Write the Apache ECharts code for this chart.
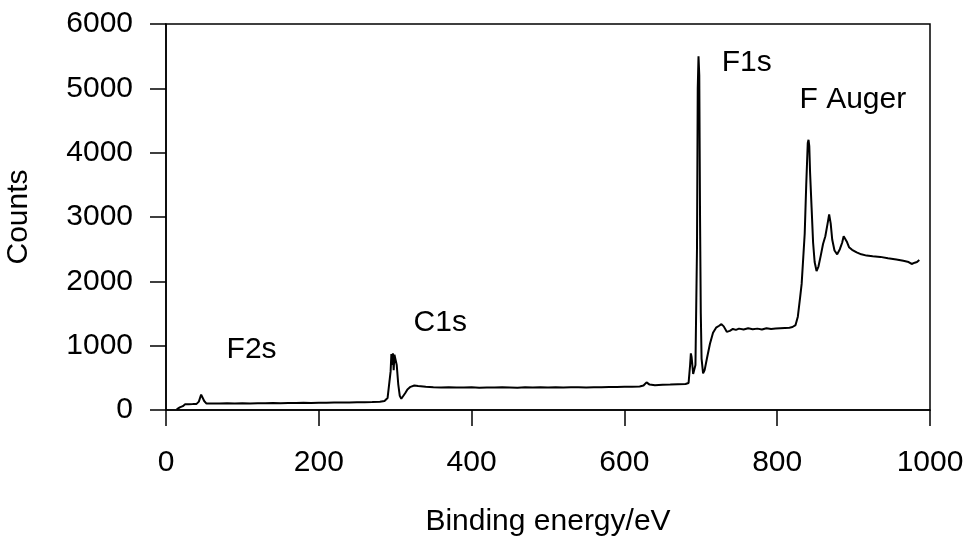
<!DOCTYPE html>
<html>
<head>
<meta charset="utf-8">
<script src="https://cdn.jsdelivr.net/npm/echarts@6/dist/echarts.min.js"></script>
<style>
  html, body { margin: 0; padding: 0; background: #fff; }
  #chart { width: 971px; height: 544px; }
</style>
</head>
<body>
<div id="chart"></div>
<script>
// binding energy (eV) and counts
var energy = [14, 18, 22, 25, 30, 35, 40, 43, 46, 48, 50, 53, 60, 70, 80, 90, 100, 110, 120, 130,
    140, 150, 160, 170, 180, 190, 200, 210, 220, 230, 240, 250, 260, 270, 280, 286, 290, 292, 294, 295,
    296, 297, 298, 299, 300, 302, 304, 306, 308, 310, 313, 316, 320, 325, 330, 340, 350, 360, 370, 380,
    390, 400, 410, 420, 430, 440, 450, 460, 470, 480, 490, 500, 510, 520, 530, 540, 550, 560, 570, 580,
    590, 600, 610, 620, 625, 629, 633, 640, 650, 660, 670, 680, 684, 686, 687, 688, 690, 691, 693, 695,
    696, 697, 698, 699, 700, 701, 703, 705, 708, 712, 716, 720, 724, 727, 730, 734, 738, 742, 746, 750,
    756, 762, 768, 774, 780, 786, 792, 798, 804, 810, 816, 820, 824, 827, 830, 832, 834, 836, 838, 840,
    841, 842, 843, 845, 847, 849, 851.5, 854, 857, 860, 863, 866, 868, 870, 872, 875, 878.5, 882, 885, 887,
    889, 891, 894, 898, 904, 910, 917, 925, 935, 945, 956, 965, 972, 976, 980, 983, 986];
var counts = [10, 40, 60, 90, 90, 92, 95, 130, 240, 220, 140, 100, 102, 100, 103, 101, 104, 102, 106, 104,
    108, 105, 110, 108, 112, 110, 114, 112, 116, 118, 115, 120, 122, 125, 130, 140, 185, 200, 600, 870,
    700, 880, 620, 860, 850, 700, 400, 220, 175, 200, 260, 320, 360, 380, 372, 362, 355, 350, 352, 348,
    350, 352, 346, 350, 348, 352, 350, 347, 352, 350, 355, 350, 352, 348, 354, 352, 350, 355, 352, 356,
    358, 360, 362, 365, 380, 430, 395, 385, 392, 395, 400, 405, 420, 700, 880, 820, 560, 530, 700, 2500,
    5000, 5500, 5200, 3000, 1500, 800, 570, 620, 800, 1030, 1200, 1280, 1310, 1335, 1300, 1215, 1230, 1260, 1245, 1265,
    1250, 1270, 1255, 1265, 1250, 1270, 1260, 1265, 1270, 1275, 1280, 1290, 1320, 1450, 1750, 1960, 2350, 2740, 3500, 4150,
    4200, 4100, 3700, 3150, 2600, 2300, 2160, 2230, 2400, 2580, 2700, 2900, 3040, 2900, 2650, 2480, 2420, 2500, 2600, 2700,
    2725, 2620, 2530, 2490, 2450, 2420, 2400, 2390, 2380, 2360, 2340, 2320, 2300, 2270, 2290, 2300, 2330];

// peak labels, placed in data coordinates
var peakNames = ['F2s', 'C1s', 'F1s', 'F Auger'];
var peakAt = [[112, 933], [359, 1353], [760, 5404], [899, 4821]];

var xTicks = [0, 200, 400, 600, 800, 1000];
var yTicks = [0, 1000, 2000, 3000, 4000, 5000, 6000];

var font = 'Liberation Sans, Arial, sans-serif';

var pts = [];
for (var i = 0; i < energy.length; i++) {
    pts.push([energy[i], counts[i]]);
}
var marks = [];
for (var j = 0; j < peakNames.length; j++) {
    marks.push({ name: peakNames[j], coord: peakAt[j], value: peakNames[j] });
}

// plain numbers, no thousands separator
function plain(v) {
    return String(v);
}

var myChart = echarts.init(document.getElementById('chart'));
var option = {
    animation: false,
    backgroundColor: '#fff',
    grid: {
        left: 166, right: 41, top: 24, bottom: 134,
        outerBoundsMode: 'none',
        containLabel: false,
        show: true, borderColor: '#000', borderWidth: 1.5
    },
    xAxis: {
        type: 'value',
        min: xTicks[0], max: xTicks[xTicks.length - 1], interval: 200,
        name: 'Binding energy/eV',
        nameLocation: 'middle',
        nameGap: 97,
        nameTextStyle: { fontFamily: font, fontSize: 30, color: '#000' },
        axisLine: { lineStyle: { color: '#000', width: 1.5 } },
        axisTick: { inside: false, length: 16, lineStyle: { color: '#000', width: 1.5 } },
        axisLabel: { margin: 38, fontFamily: font, fontSize: 30, color: '#000', formatter: plain },
        splitLine: { show: false }
    },
    yAxis: {
        type: 'value',
        min: yTicks[0], max: yTicks[yTicks.length - 1], interval: 1000,
        name: 'Counts',
        nameLocation: 'middle',
        nameGap: 132,
        nameRotate: 90,
        nameTextStyle: { fontFamily: font, fontSize: 30, color: '#000' },
        axisLine: { lineStyle: { color: '#000', width: 1.5 } },
        axisTick: { inside: false, length: 16, lineStyle: { color: '#000', width: 1.5 } },
        axisLabel: { margin: 33, fontFamily: font, fontSize: 30, color: '#000', formatter: plain },
        splitLine: { show: false }
    },
    series: [{
        type: 'line',
        data: pts,
        symbol: 'none',
        lineStyle: { color: '#000', width: 2 },
        markPoint: {
            symbol: 'circle',
            symbolSize: 0,
            data: marks,
            label: {
                show: true,
                position: 'inside',
                formatter: '{b}',
                fontFamily: font,
                fontSize: 30,
                color: '#000'
            }
        }
    }]
};
myChart.setOption(option);
</script>
</body>
</html>
